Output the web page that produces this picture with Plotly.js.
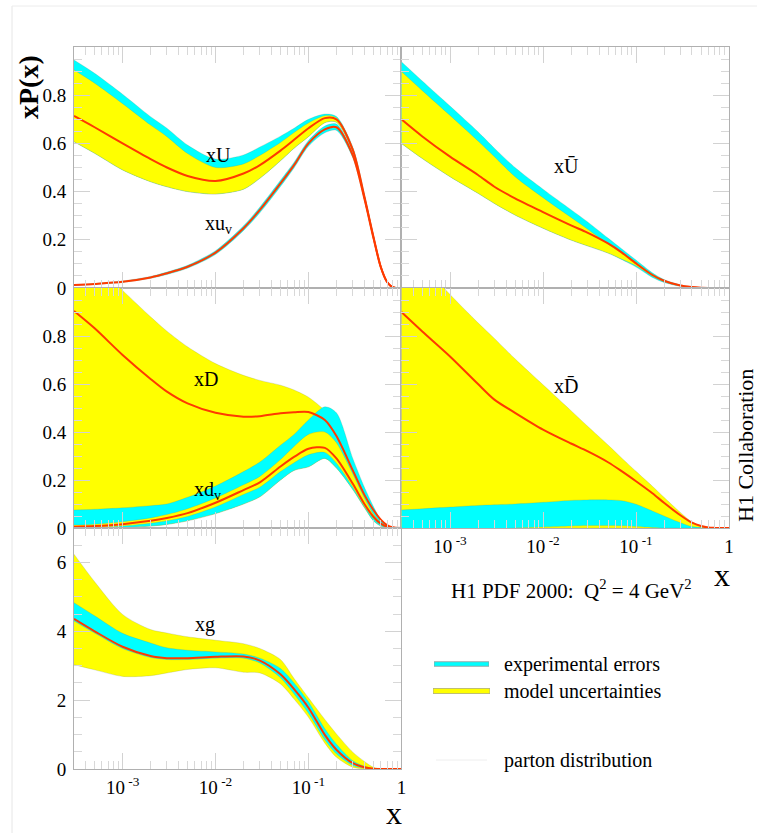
<!DOCTYPE html>
<html>
<head>
<meta charset="utf-8">
<script src="https://cdn.plot.ly/plotly-3.0.1.min.js"></script>
<style>html,body{margin:0;padding:0;background:#fff;} #plot{width:757px;height:833px;}</style>
</head>
<body>
<div id="plot"></div>
<script>
// ---------------- DATA ----------------
const xGrid = [0.0003, 0.0005, 0.001, 0.002, 0.003, 0.005, 0.01, 0.02, 0.03, 0.05, 0.07, 0.1, 0.15, 0.2, 0.3, 0.4, 0.5, 0.6, 0.7, 0.8, 1.0];

// top-left: xU and xu_v
const xU_central = [0.714, 0.667, 0.600, 0.535, 0.500, 0.465, 0.444, 0.475, 0.510, 0.570, 0.615, 0.663, 0.705, 0.700, 0.573, 0.379, 0.213, 0.088, 0.026, 0.004, 0];
const xU_modHi   = [0.905, 0.850, 0.765, 0.676, 0.628, 0.558, 0.500, 0.515, 0.550, 0.604, 0.645, 0.685, 0.715, 0.706, 0.580, 0.385, 0.218, 0.091, 0.027, 0.004, 0];
const xU_expHi   = [0.946, 0.891, 0.804, 0.711, 0.663, 0.593, 0.535, 0.552, 0.585, 0.630, 0.663, 0.700, 0.722, 0.712, 0.585, 0.390, 0.222, 0.093, 0.028, 0.005, 0];
const xU_modLo   = [0.607, 0.559, 0.490, 0.441, 0.420, 0.400, 0.390, 0.410, 0.455, 0.528, 0.580, 0.628, 0.686, 0.688, 0.565, 0.372, 0.208, 0.085, 0.024, 0.003, 0];
const xuv_central= [0.012, 0.017, 0.026, 0.044, 0.061, 0.088, 0.147, 0.248, 0.324, 0.434, 0.510, 0.600, 0.658, 0.667, 0.550, 0.370, 0.208, 0.086, 0.025, 0.004, 0];
const xuv_hi     = [0.014, 0.019, 0.029, 0.048, 0.066, 0.094, 0.155, 0.258, 0.336, 0.447, 0.522, 0.612, 0.672, 0.680, 0.560, 0.376, 0.212, 0.088, 0.026, 0.004, 0];
const xuv_lo     = [0.010, 0.015, 0.023, 0.040, 0.056, 0.082, 0.139, 0.238, 0.312, 0.421, 0.498, 0.588, 0.644, 0.654, 0.540, 0.364, 0.204, 0.084, 0.024, 0.004, 0];

// top-right: xUbar
const xUb_central= [0.700, 0.630, 0.545, 0.469, 0.420, 0.372, 0.315, 0.260, 0.230, 0.185, 0.148, 0.102, 0.054, 0.030, 0.010, 0.004, 0.0015, 0.0005, 0, 0, 0];
const xUb_modHi  = [0.898, 0.820, 0.716, 0.610, 0.545, 0.462, 0.375, 0.293, 0.245, 0.183, 0.145, 0.106, 0.058, 0.032, 0.011, 0.004, 0.0015, 0.0005, 0, 0, 0];
const xUb_expHi  = [0.939, 0.860, 0.755, 0.648, 0.580, 0.500, 0.410, 0.325, 0.275, 0.207, 0.163, 0.116, 0.063, 0.035, 0.013, 0.005, 0.002, 0.0006, 0, 0, 0];
const xUb_modLo  = [0.600, 0.538, 0.462, 0.393, 0.351, 0.303, 0.248, 0.199, 0.175, 0.145, 0.120, 0.092, 0.050, 0.027, 0.009, 0.003, 0.001, 0.0004, 0, 0, 0];
const xUb_expLo  = [0.600, 0.538, 0.462, 0.393, 0.351, 0.303, 0.248, 0.199, 0.175, 0.145, 0.118, 0.087, 0.044, 0.023, 0.007, 0.002, 0.0008, 0.0003, 0, 0, 0];

// middle-left: xD and xd_v
const xD_central = [0.904, 0.832, 0.721, 0.621, 0.568, 0.519, 0.480, 0.464, 0.466, 0.478, 0.482, 0.483, 0.450, 0.383, 0.240, 0.138, 0.075, 0.035, 0.012, 0.003, 0];
const xD_modHi   = [1.200, 1.100, 0.990, 0.880, 0.820, 0.755, 0.685, 0.636, 0.615, 0.595, 0.575, 0.545, 0.490, 0.440, 0.270, 0.150, 0.080, 0.035, 0.012, 0.003, 0];
const xD_expHi   = [0.075, 0.078, 0.084, 0.093, 0.100, 0.128, 0.175, 0.235, 0.275, 0.345, 0.390, 0.450, 0.505, 0.480, 0.290, 0.170, 0.090, 0.035, 0.012, 0.003, 0];
const xD_expLo   = [-0.02, -0.02, 0.000, 0.008, 0.015, 0.030, 0.060, 0.100, 0.130, 0.200, 0.240, 0.255, 0.290, 0.250, 0.160, 0.085, 0.030, 0.008, 0.002, 0, 0];
const xdv_central= [0.005, 0.008, 0.016, 0.030, 0.042, 0.062, 0.105, 0.158, 0.190, 0.256, 0.296, 0.330, 0.334, 0.290, 0.184, 0.100, 0.047, 0.018, 0.005, 0.001, 0];
const xdv_modHi  = [0.012, 0.016, 0.026, 0.042, 0.056, 0.080, 0.125, 0.180, 0.215, 0.285, 0.340, 0.390, 0.400, 0.355, 0.225, 0.125, 0.058, 0.022, 0.006, 0.001, 0];
const xdv_modLo  = [0.000, 0.002, 0.008, 0.020, 0.030, 0.048, 0.088, 0.140, 0.170, 0.235, 0.272, 0.305, 0.315, 0.270, 0.170, 0.090, 0.040, 0.015, 0.004, 0.001, 0];

// middle-right: xDbar
const xDb_central= [0.900, 0.820, 0.715, 0.600, 0.535, 0.480, 0.410, 0.352, 0.320, 0.274, 0.237, 0.195, 0.145, 0.105, 0.053, 0.022, 0.008, 0.002, 0.0005, 0, 0];
const xDb_modHi  = [1.200, 1.100, 0.973, 0.855, 0.790, 0.705, 0.597, 0.489, 0.425, 0.346, 0.292, 0.236, 0.174, 0.128, 0.065, 0.025, 0.009, 0.003, 0.001, 0, 0];
const xDb_modLo  = [0, 0, 0, 0, 0, 0, 0, 0, 0, 0, 0, 0, 0, 0, 0, 0, 0, 0, 0, 0, 0];
const xDb_expHi  = [0.075, 0.080, 0.087, 0.094, 0.097, 0.100, 0.107, 0.115, 0.117, 0.117, 0.114, 0.099, 0.071, 0.050, 0.022, 0.006, 0.002, 0, 0, 0, 0];
const xDb_expLo  = [-0.01, -0.01, -0.01, -0.008, -0.005, 0.000, 0.004, 0.008, 0.010, 0.010, 0.009, 0.006, 0.002, 0, 0, 0, 0, 0, 0, 0, 0];

// bottom-left: xg
const xg_central = [4.36, 4.00, 3.55, 3.28, 3.22, 3.22, 3.26, 3.27, 3.15, 2.75, 2.32, 1.78, 0.99, 0.56, 0.17, 0.05, 0.01, 0.002, 0, 0, 0];
const xg_modHi   = [6.24, 5.44, 4.49, 4.05, 3.95, 3.84, 3.74, 3.64, 3.50, 3.18, 2.63, 2.07, 1.44, 1.02, 0.49, 0.22, 0.05, 0.012, 0.002, 0, 0];
const xg_modLo   = [3.03, 2.88, 2.69, 2.71, 2.79, 2.89, 2.94, 2.81, 2.79, 2.47, 2.03, 1.50, 0.75, 0.34, 0.05, 0, 0, 0, 0, 0, 0];
const xg_expHi   = [4.83, 4.45, 3.94, 3.66, 3.52, 3.45, 3.40, 3.34, 3.22, 2.92, 2.50, 1.95, 1.17, 0.72, 0.24, 0.08, 0.02, 0.004, 0, 0, 0];
const xg_expLo   = [4.30, 3.95, 3.50, 3.24, 3.18, 3.18, 3.22, 3.22, 3.08, 2.65, 2.18, 1.62, 0.85, 0.44, 0.10, 0.02, 0, 0, 0, 0, 0];

// tick labels
const xTickVals = [0.001, 0.01, 0.1, 1];
const xTickText = ['10<sup> -3</sup>', '10<sup> -2</sup>', '10<sup> -1</sup>', '1'];
const yTickVals01 = [0, 0.2, 0.4, 0.6, 0.8];
const yTickText01 = ['0', '0.2', '0.4', '0.6', '0.8'];
const yTickValsG = [0, 2, 4, 6];
const yTickTextG = ['0', '2', '4', '6'];

// ---------------- STYLE ----------------
const W = 757, H = 833;
const FONT = 'Liberation Serif';
const CYAN = '#00ffff', YELLOW = '#ffff00', RED = '#ff3a00';
const EDGE = 'rgba(110,130,90,0.4)';
const px = v => v / W;
const py = v => 1 - v / H;
const L0 = 74, LM = 401.4, R1 = 729, T0 = 47, T1 = 288, M1 = 528, B1 = 769;

const traces = [];
function band(xa, ya, lo, hi, color) {
  const common = {x: xGrid, xaxis: xa, yaxis: ya, mode: 'lines', hoverinfo: 'skip', showlegend: false};
  traces.push(Object.assign({}, common, {y: lo, line: {width: 0.5, color: EDGE, shape: 'spline', smoothing: 0.8}}));
  traces.push(Object.assign({}, common, {y: hi, fill: 'tonexty', fillcolor: color, line: {width: 0.5, color: EDGE, shape: 'spline', smoothing: 0.8}}));
}
function curve(xa, ya, y) {
  traces.push({x: xGrid, y: y, xaxis: xa, yaxis: ya, mode: 'lines', hoverinfo: 'skip', showlegend: false,
    line: {width: 2, color: RED, shape: 'spline', smoothing: 0.8}});
}

// top-left
band('x', 'y', xU_modLo, xU_expHi, CYAN);
band('x', 'y', xU_modLo, xU_modHi, YELLOW);
band('x', 'y', xuv_lo, xuv_hi, CYAN);
curve('x', 'y', xU_central);
curve('x', 'y', xuv_central);
// top-right
band('x2', 'y2', xUb_expLo, xUb_expHi, CYAN);
band('x2', 'y2', xUb_modLo, xUb_modHi, YELLOW);
curve('x2', 'y2', xUb_central);
// middle-left
band('x3', 'y3', xD_expLo, xD_modHi, YELLOW);
band('x3', 'y3', xD_expLo, xD_expHi, CYAN);
band('x3', 'y3', xdv_modLo, xdv_modHi, YELLOW);
curve('x3', 'y3', xD_central);
curve('x3', 'y3', xdv_central);
// middle-right
band('x4', 'y4', xDb_modLo, xDb_modHi, YELLOW);
band('x4', 'y4', xDb_expLo, xDb_expHi, CYAN);
curve('x4', 'y4', xDb_central);
// bottom-left
band('x5', 'y5', xg_modLo, xg_modHi, YELLOW);
band('x5', 'y5', xg_expLo, xg_expHi, CYAN);
curve('x5', 'y5', xg_central);

// minor tick positions (styling)
const xMinor = [];
for (let d = -4; d <= -1; d++) for (let m = 2; m <= 9; m++) {
  const v = m * Math.pow(10, d);
  if (v >= 3e-4 && v < 1) xMinor.push(v);
}
function minorLinear(max, step) { const a = []; for (let v = 0; v <= max + 1e-9; v += step) a.push(+v.toFixed(4)); return a; }

function tf() { return {family: FONT, size: 19, color: '#000'}; }
function xAxis(dom, anchor, labels) {
  return {type: 'log', domain: dom, anchor: anchor, range: [Math.log10(3e-4), 0],
    tickmode: 'array', tickvals: xTickVals, ticktext: xTickText, showticklabels: labels, ticklabelstandoff: 1,
    ticks: 'inside', ticklen: 16, tickwidth: 1, tickcolor: '#d2d2d2', mirror: 'allticks',
    showline: true, linecolor: '#b0b0b0', linewidth: 1, showgrid: false, zeroline: false,
    minor: {tickmode: 'array', tickvals: xMinor, ticks: 'inside', ticklen: 8, tickwidth: 1, tickcolor: '#d8d8d8', showgrid: false},
    tickfont: tf(), fixedrange: true};
}
function yAxis(dom, anchor, rng, tv, tt, minorStep, labels) {
  return {domain: dom, anchor: anchor, range: rng, tickmode: 'array', tickvals: tv, ticktext: tt,
    showticklabels: labels, ticklabelstandoff: 3, ticks: 'inside', ticklen: 16, tickwidth: 1, tickcolor: '#d2d2d2', mirror: 'allticks',
    showline: true, linecolor: '#b0b0b0', linewidth: 1, showgrid: false, zeroline: false,
    minor: {tickmode: 'array', tickvals: minorLinear(rng[1], minorStep), ticks: 'inside', ticklen: 8, tickwidth: 1, tickcolor: '#d8d8d8', showgrid: false},
    tickfont: tf(), fixedrange: true};
}

const dL = [px(L0), px(LM)], dR = [px(LM), px(R1)];
const dT = [py(T1), py(T0)], dM = [py(M1), py(T1)], dB = [py(B1), py(M1)];

function ann(text, x, y, size, extra) {
  return Object.assign({text: text, xref: 'paper', yref: 'paper', x: px(x), y: py(y), xanchor: 'center', yanchor: 'middle',
    showarrow: false, font: {family: FONT, size: size, color: '#000'}}, extra || {});
}

const annotations = [
  ann('xU', 218, 155, 20),
  ann('xu<sub>v</sub>', 218, 225, 20),
  ann('x\u016A', 566, 166, 20),
  ann('xD', 206, 379, 20),
  ann('xd<sub>v</sub>', 207, 490, 20),
  ann('xD\u0304', 566, 386, 20),
  ann('xg', 205, 624, 20),
  ann('<b>xP(x)</b>', 29, 87, 28, {textangle: -90}),
  ann('x', 394, 813, 32),
  ann('x', 722, 575, 32),
  ann('H1 PDF 2000:  Q<sup>2</sup> = 4 GeV<sup>2</sup>', 571, 589, 21),
  ann('H1 Collaboration', 745, 446, 22, {textangle: -90}),
  ann('experimental errors', 502, 664, 20, {xanchor: 'left'}),
  ann('model uncertainties', 502, 691, 20, {xanchor: 'left'}),
  ann('parton distribution', 502, 760, 20, {xanchor: 'left'})
];

const shapes = [
  {type: 'line', xref: 'paper', yref: 'paper', x0: px(12), x1: px(12), y0: py(6), y1: py(833), line: {color: '#e6e6e6', width: 1}},
  {type: 'line', xref: 'paper', yref: 'paper', x0: px(12), x1: px(757), y0: py(6), y1: py(6), line: {color: '#ececec', width: 1}},
  {type: 'line', xref: 'paper', yref: 'paper', x0: px(434), x1: px(489), y0: py(664), y1: py(664), line: {color: '#8aa', width: 5.5}},
  {type: 'line', xref: 'paper', yref: 'paper', x0: px(434.5), x1: px(488.5), y0: py(664), y1: py(664), line: {color: CYAN, width: 3.5}},
  {type: 'line', xref: 'paper', yref: 'paper', x0: px(433), x1: px(490), y0: py(691), y1: py(691), line: {color: '#aa9', width: 6}},
  {type: 'line', xref: 'paper', yref: 'paper', x0: px(433.5), x1: px(489.5), y0: py(691), y1: py(691), line: {color: YELLOW, width: 4.5}},
  {type: 'line', xref: 'paper', yref: 'paper', x0: px(436), x1: px(487), y0: py(760), y1: py(760), line: {color: '#eeeeee', width: 1}}
];

const layout = {
  width: W, height: H, margin: {l: 0, r: 0, t: 0, b: 0},
  font: {family: FONT, size: 19, color: '#000'},
  paper_bgcolor: '#fff', plot_bgcolor: '#fff', showlegend: false,
  xaxis:  xAxis(dL, 'y', false),
  xaxis2: xAxis(dR, 'y2', false),
  xaxis3: xAxis(dL, 'y3', false),
  xaxis4: xAxis(dR, 'y4', true),
  xaxis5: xAxis(dL, 'y5', true),
  yaxis:  yAxis(dT, 'x', [0, 1], yTickVals01, yTickText01, 0.05, true),
  yaxis2: yAxis(dT, 'x2', [0, 1], yTickVals01, yTickText01, 0.05, false),
  yaxis3: yAxis(dM, 'x3', [0, 1], yTickVals01, yTickText01, 0.05, true),
  yaxis4: yAxis(dM, 'x4', [0, 1], yTickVals01, yTickText01, 0.05, false),
  yaxis5: yAxis(dB, 'x5', [0, 7], yTickValsG, yTickTextG, 0.5, true),
  annotations: annotations,
  shapes: shapes
};

Plotly.newPlot('plot', traces, layout, {staticPlot: true, displayModeBar: false});
</script>
</body>
</html>
